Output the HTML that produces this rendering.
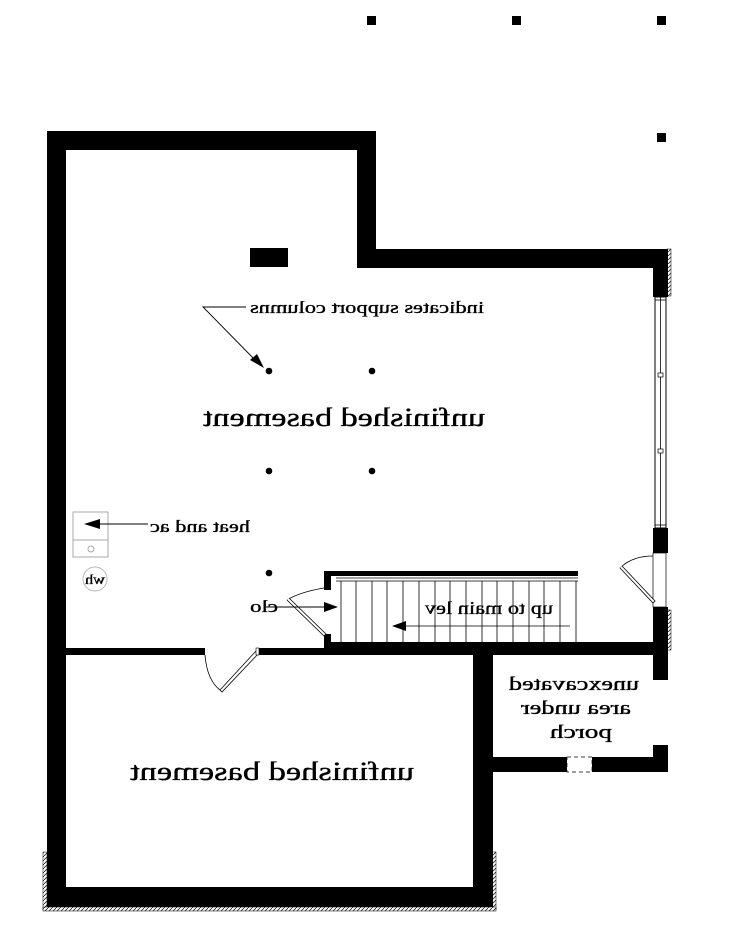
<!DOCTYPE html>
<html><head><meta charset="utf-8"><style>
html,body{margin:0;padding:0;background:#fff;}
svg{display:block;}
text{font-family:"Liberation Serif",serif;fill:#000;stroke:#000;stroke-width:0.35;}
</style></head><body>
<svg width="729" height="925" viewBox="0 0 729 925" xmlns="http://www.w3.org/2000/svg">
<defs>
<pattern id="h" width="4" height="4" patternUnits="userSpaceOnUse">
<rect width="4" height="4" fill="#fff"/><path d="M0 4L4 0" stroke="#000" stroke-width="0.7"/></pattern>
</defs>
<rect x="367" y="16" width="9" height="9"/>
<rect x="512" y="16" width="9" height="9"/>
<rect x="657" y="16" width="9" height="9"/>
<rect x="657" y="133" width="9" height="9"/>
<rect x="667" y="249" width="4" height="47" fill="url(#h)" stroke="#000" stroke-width="0.5"/>
<rect x="667" y="610" width="4" height="40" fill="url(#h)" stroke="#000" stroke-width="0.5"/>
<rect x="43" y="852" width="4" height="58" fill="url(#h)" stroke="#000" stroke-width="0.5"/>
<rect x="492" y="852" width="4" height="58" fill="url(#h)" stroke="#000" stroke-width="0.5"/>
<rect x="43" y="907" width="453" height="4" fill="url(#h)" stroke="#000" stroke-width="0.5"/>
<rect x="47" y="131" width="19" height="776"/>
<rect x="47" y="131" width="329" height="19"/>
<rect x="357" y="131" width="19" height="137"/>
<rect x="357" y="249" width="311" height="19"/>
<rect x="653" y="249" width="15" height="48"/>
<rect x="653" y="528" width="15" height="25"/>
<rect x="653" y="607" width="15" height="73"/>
<rect x="653" y="745" width="15" height="27"/>
<rect x="493" y="757" width="175" height="15"/>
<rect x="47" y="887" width="445" height="20"/>
<rect x="473" y="648" width="20" height="259"/>
<rect x="66" y="648" width="139" height="7"/>
<rect x="258" y="648" width="410" height="7"/>
<rect x="324" y="642" width="344" height="13"/>
<rect x="567" y="757" width="25" height="15" fill="#fff" stroke="#000" stroke-width="0.7" stroke-dasharray="4 3"/>
<rect x="655" y="297" width="11" height="231" fill="#fff" stroke="#000" stroke-width="1"/>
<line x1="660.5" y1="297" x2="660.5" y2="528" stroke="#000" stroke-width="0.8"/>
<line x1="655" y1="300" x2="666" y2="300" stroke="#000" stroke-width="0.8"/>
<line x1="655" y1="525" x2="666" y2="525" stroke="#000" stroke-width="0.8"/>
<rect x="658" y="373" width="5" height="4" fill="#fff" stroke="#000" stroke-width="0.7"/>
<rect x="658" y="449" width="5" height="4" fill="#fff" stroke="#000" stroke-width="0.7"/>
<rect x="653" y="553" width="13" height="54" fill="#fff" stroke="#000" stroke-width="0.7"/>
<path d="M653 556 Q632 556 620 568" fill="none" stroke="#000" stroke-width="0.8"/>
<path d="M620 568 L653 603 L655 601 L622 566" fill="#fff" stroke="#000" stroke-width="0.8"/>
<rect x="324" y="571" width="254" height="5"/>
<rect x="324" y="571" width="7" height="19"/>
<rect x="324" y="634" width="7" height="10"/>
<line x1="336" y1="578" x2="578" y2="578" stroke="#000" stroke-width="0.8"/>
<line x1="336" y1="581" x2="578" y2="581" stroke="#000" stroke-width="0.8"/>
<g stroke="#000" stroke-width="0.8">
<line x1="341" y1="581" x2="341" y2="642"/><line x1="356" y1="581" x2="356" y2="642"/><line x1="372" y1="581" x2="372" y2="642"/><line x1="387" y1="581" x2="387" y2="642"/><line x1="403" y1="581" x2="403" y2="642"/><line x1="419" y1="581" x2="419" y2="642"/><line x1="435" y1="581" x2="435" y2="642"/><line x1="450" y1="581" x2="450" y2="642"/><line x1="466" y1="581" x2="466" y2="642"/><line x1="482" y1="581" x2="482" y2="642"/><line x1="497" y1="581" x2="497" y2="642"/><line x1="513" y1="581" x2="513" y2="642"/><line x1="529" y1="581" x2="529" y2="642"/><line x1="544" y1="581" x2="544" y2="642"/><line x1="560" y1="581" x2="560" y2="642"/><line x1="576" y1="581" x2="576" y2="642"/>
<line x1="395" y1="626" x2="570" y2="626"/>
</g>
<polygon points="392,626 406,621 406,631"/>
<path d="M324 588 Q300 592 287 600" fill="none" stroke="#000" stroke-width="0.8"/>
<path d="M287 600 L324 636 L326 634 L289 598" fill="#fff" stroke="#000" stroke-width="0.8"/>
<line x1="266" y1="607" x2="325" y2="607" stroke="#000" stroke-width="0.9"/>
<polygon points="338,607 324,602 324,612"/>
<path d="M205 655 Q207 680 220 690" fill="none" stroke="#000" stroke-width="0.8"/>
<path d="M220 690 L256 651 L259 653 L222 692 Z" fill="#fff" stroke="#000" stroke-width="0.8"/>
<rect x="256" y="648" width="3" height="7" fill="#fff" stroke="#000" stroke-width="0.6"/>
<rect x="250" y="248" width="38" height="19"/>
<circle cx="269" cy="371" r="3.3"/><circle cx="372" cy="371" r="3.3"/>
<circle cx="269" cy="471" r="3.3"/><circle cx="372" cy="471" r="3.3"/>
<circle cx="269" cy="573" r="3.3"/>
<polyline points="246,307 203,307 258,363" fill="none" stroke="#000" stroke-width="0.9"/>
<polygon points="264,368 250,360 257,354"/>
<rect x="73" y="512" width="35" height="45" fill="#fff" stroke="#aaa" stroke-width="1"/>
<line x1="73" y1="540" x2="108" y2="540" stroke="#aaa" stroke-width="1"/>
<circle cx="91" cy="549" r="3" fill="none" stroke="#aaa"/>
<line x1="98" y1="524" x2="148" y2="524" stroke="#000" stroke-width="0.9"/>
<polygon points="84,524 100,519 100,529"/>
<circle cx="95" cy="579" r="12" fill="#fff" stroke="#bbb"/>
<g transform="translate(344,426) scale(-1,1)"><text x="-141" y="0" font-size="26" textLength="282" lengthAdjust="spacingAndGlyphs">unfinished basement</text></g>
<g transform="translate(367,313) scale(-1,1)"><text x="-117" y="0" font-size="17" textLength="234" lengthAdjust="spacingAndGlyphs">indicates support columns</text></g>
<g transform="translate(200,532) scale(-1,1)"><text x="-50" y="0" font-size="17" textLength="100" lengthAdjust="spacingAndGlyphs">heat and ac</text></g>
<g transform="translate(95,584) scale(-1,1)"><text x="-10" y="0" font-size="14" textLength="20" lengthAdjust="spacingAndGlyphs">wh</text></g>
<g transform="translate(264,612) scale(-1,1)"><text x="-14" y="0" font-size="17" textLength="28" lengthAdjust="spacingAndGlyphs">clo</text></g>
<g transform="translate(489,614) scale(-1,1)"><text x="-64" y="0" font-size="18" textLength="128" lengthAdjust="spacingAndGlyphs">up to main lev</text></g>
<g transform="translate(272,780) scale(-1,1)"><text x="-142" y="0" font-size="26" textLength="284" lengthAdjust="spacingAndGlyphs">unfinished basement</text></g>
<g transform="translate(574,690) scale(-1,1)"><text x="-65" y="0" font-size="19" textLength="130" lengthAdjust="spacingAndGlyphs">unexcavated</text></g>
<g transform="translate(576,714) scale(-1,1)"><text x="-55" y="0" font-size="19" textLength="110" lengthAdjust="spacingAndGlyphs">area under</text></g>
<g transform="translate(581,738) scale(-1,1)"><text x="-31" y="0" font-size="19" textLength="62" lengthAdjust="spacingAndGlyphs">porch</text></g>
</svg>
</body></html>
